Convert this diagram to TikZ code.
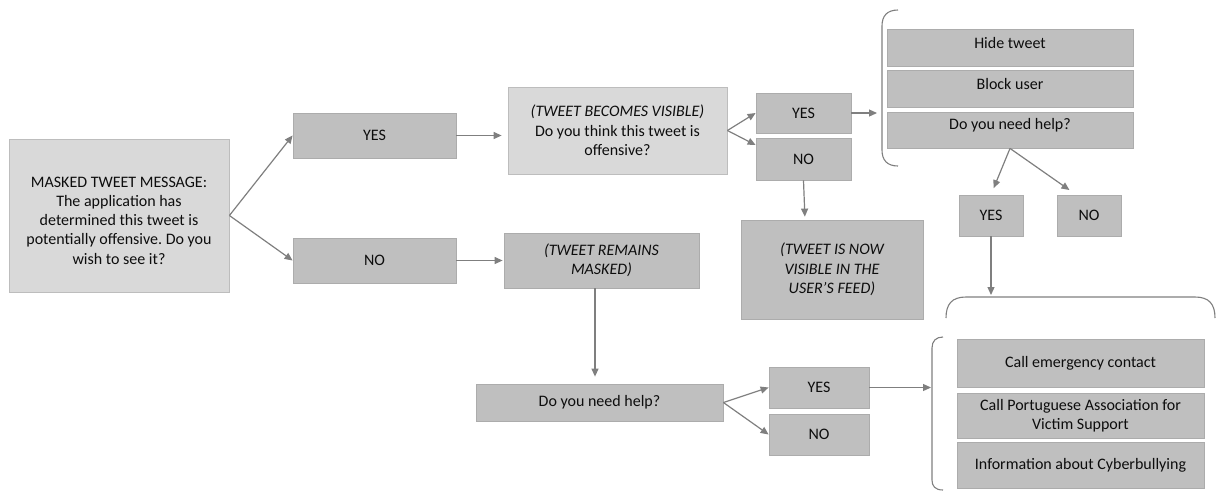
\documentclass[tikz,border=0pt]{standalone}
\usepackage{fontspec}
\setmainfont{Carlito}
\frenchspacing
\usetikzlibrary{arrows.meta}
\definecolor{darkfill}{HTML}{BFBFBF}
\definecolor{darkedge}{HTML}{ACACAC}
\definecolor{lightfill}{HTML}{D9D9D9}
\definecolor{lightedge}{HTML}{BDBDBD}
\definecolor{linegray}{HTML}{7F7F7F}
\definecolor{txtcol}{HTML}{0D0D0D}
\tikzset{
  base/.style={draw=darkedge, fill=darkfill, line width=0.8pt, inner sep=0pt, align=center,
    text=txtcol, font=\fontsize{16}{19.3}\selectfont},
  darkbox/.style={base},
  lightbox/.style={base, draw=lightedge, fill=lightfill},
  txtlabel/.style={align=center, text=txtcol, font=\fontsize{16}{19.3}\selectfont, inner sep=0pt},
  arr/.style={draw=linegray, line width=1.2pt, -{Triangle[length=8pt,width=7pt]}},
  bracket/.style={draw=linegray, line width=1.1pt},
}
\begin{document}
\begin{tikzpicture}[x=1pt,y=-1pt]
\useasboundingbox (0,0) rectangle (1216,491);

% boxes
\node[lightbox, minimum width=220pt, minimum height=153pt,
  label={[txtlabel, yshift=-5pt]center:{MASKED TWEET MESSAGE:\\The application has\\determined this tweet is\\potentially offensive. Do you\\wish to see it?}}] (a) at (119,215.5) {};
\node[darkbox, minimum width=163pt, minimum height=45pt] (yes1) at (374.5,135.5) {YES};
\node[darkbox, minimum width=163pt, minimum height=45pt] (no1) at (374.5,260.5) {NO};
\node[lightbox, minimum width=219pt, minimum height=87pt] (vis) at (617.5,130.5)
  {\textit{(TWEET BECOMES VISIBLE)}\\Do you think this tweet is\\offensive?};
\node[darkbox, minimum width=195pt, minimum height=55pt] (mask) at (601.5,260.5)
  {\itshape (TWEET REMAINS\\\itshape MASKED)};
\node[darkbox, minimum width=95pt, minimum height=40pt] (yes2) at (803.5,113) {YES};
\node[darkbox, minimum width=95pt, minimum height=42pt] (no2) at (803.5,159) {NO};
\node[darkbox, minimum width=182pt, minimum height=99pt] (tvis) at (832,269.5)
  {\itshape (TWEET IS NOW\\\itshape VISIBLE IN THE\\\itshape USER’S FEED)};

\node[darkbox, minimum width=246pt, minimum height=37pt,
  label={[txtlabel, yshift=4.5pt]center:Hide tweet}] (hide) at (1010,47.5) {};
\node[darkbox, minimum width=246pt, minimum height=37pt,
  label={[txtlabel, yshift=4.5pt]center:Block user}] (block) at (1010,88.5) {};
\node[darkbox, minimum width=246pt, minimum height=36pt,
  label={[txtlabel, yshift=4.5pt]center:Do you need help?}] (helpA) at (1010,130) {};

\node[darkbox, minimum width=64pt, minimum height=41pt] (yes3) at (991,215.5) {YES};
\node[darkbox, minimum width=64pt, minimum height=41pt] (no3) at (1089,215.5) {NO};

\node[darkbox, minimum width=247pt, minimum height=37pt] (help2) at (599.5,402.5) {Do you need help?};
\node[darkbox, minimum width=100pt, minimum height=41pt] (yes4) at (819,387.5) {YES};
\node[darkbox, minimum width=100pt, minimum height=41pt] (no4) at (819,434.5) {NO};

\node[darkbox, minimum width=247pt, minimum height=48pt] (call) at (1080.5,363) {Call emergency contact};
\node[darkbox, minimum width=247pt, minimum height=45pt] (port) at (1080.5,415.5) {Call Portuguese Association for\\Victim Support};
\node[darkbox, minimum width=247pt, minimum height=46pt] (info) at (1080.5,465) {Information about Cyberbullying};

% brackets
\coordinate (br1) at (882,88);
\draw[bracket] (898,10) .. controls (887,10) and (882,16) .. (882,26) -- (882,150)
  .. controls (882,160) and (887,166) .. (898,166);
\coordinate (arcTop) at (1080,297);
\draw[bracket] (946,318) .. controls (946,304) and (952,297) .. (966,297) -- (1195,297)
  .. controls (1209,297) and (1215,304) .. (1215,318);
\coordinate (br2) at (932,414);
\draw[bracket] (943,337) .. controls (936,337) and (932,341) .. (932,348) -- (932,480)
  .. controls (932,486) and (935,490) .. (943,490);

% connectors
\draw[arr] (a.east) -- (yes1.west);
\draw[arr] (a.east) -- (no1.west);
\draw[arr, shorten >=6pt] (yes1.east) -- (yes1.east -| vis.west);
\draw[arr, shorten >=1pt] (no1.east) -- (no1.east -| mask.west);
\draw[arr] (vis.east) -- (yes2.west);
\draw[arr] (vis.east) -- ([yshift=14pt]no2.west);
\draw[arr, shorten >=5pt] (yes2.east) -- (yes2.east -| br1);
\draw[arr, shorten >=3pt] (no2.south) -- ([xshift=-27pt]tvis.north);
\draw[arr, shorten >=7pt] (helpA.south) -- (yes3.north);
\draw[arr, shorten >=8pt] (helpA.south) -- ([xshift=-13pt]no3.north);
\draw[arr, shorten >=2pt] (yes3.south) -- (yes3.south |- arcTop);
\draw[arr, shorten >=7pt] ([xshift=-6.5pt]mask.south) -- ([xshift=-4.5pt]help2.north);
\draw[arr] (help2.east) -- (yes4.west);
\draw[arr] (help2.east) -- (no4.west);
\draw[arr, shorten >=1pt] (yes4.east) -- (yes4.east -| br2);
\end{tikzpicture}
\end{document}
